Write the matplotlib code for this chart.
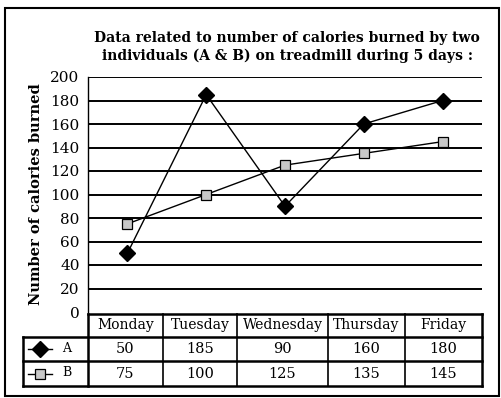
import matplotlib
matplotlib.use("Agg")
import matplotlib.pyplot as plt
from matplotlib.patches import Rectangle

days = ["Monday", "Tuesday", "Wednesday", "Thursday", "Friday"]
series_a = [50, 185, 90, 160, 180]
series_b = [75, 100, 125, 135, 145]
yticks = [0, 20, 40, 60, 80, 100, 120, 140, 160, 180, 200]
title = "Data related to number of calories burned by two\nindividuals (A & B) on treadmill during 5 days :"
ylabel = "Number of calories burned"

W, H = 502, 398
fig = plt.figure(figsize=(W / 100, H / 100), dpi=100)
plt.rcParams['font.family'] = ['DejaVu Serif']

def fx(px):
    return px / W

def fy(py):
    return 1 - py / H

# outer border
fig.patches.append(Rectangle((fx(5), fy(396)), fx(499) - fx(5), fy(8) - fy(396),
                             transform=fig.transFigure, fill=False, lw=1.5, ec='black'))

L, R, T, B = 88, 482, 77, 312
ax = fig.add_axes([fx(L), fy(B), fx(R) - fx(L), fy(T) - fy(B)])
x = list(range(len(days)))
ax.set_xlim(-0.5, len(days) - 0.5)
ax.set_ylim(0, 200)
ax.set_yticks(yticks)
ax.set_yticklabels([str(v) for v in yticks], fontsize=11)
ax.set_xticks([])
ax.tick_params(axis='y', length=0, pad=6)
for s in ['top', 'right', 'bottom']:
    ax.spines[s].set_visible(False)
ax.spines['left'].set_linewidth(1.0)
for v in yticks[1:]:
    ax.axhline(v, color='black', lw=1.4, zorder=1)
ax.plot(x, series_b, color='black', lw=1.0, marker='s', markersize=7.5,
        markerfacecolor='#c8c8c8', markeredgecolor='black', markeredgewidth=0.9, zorder=3)
ax.plot(x, series_a, color='black', lw=1.0, marker='D', markersize=8,
        markerfacecolor='black', markeredgecolor='black', zorder=4)
ax.set_ylabel(ylabel, fontsize=10.5, fontweight='bold', labelpad=5)

fig.text(fx(287), fy(47), title, ha='center', va='center', fontsize=10,
         fontweight='bold', linespacing=1.3)

# table
tax = fig.add_axes([0, 0, 1, 1])
tax.set_xlim(0, W)
tax.set_ylim(H, 0)
tax.axis('off')
col_edges = [88, 163, 237, 328, 405, 482]
rows_y = [314, 337, 361, 386]
lw = 1.8
tax.plot([L, R], [rows_y[0], rows_y[0]], color='black', lw=lw)
for yy in rows_y[1:]:
    tax.plot([23, R], [yy, yy], color='black', lw=lw)
for i, xe in enumerate(col_edges):
    tax.plot([xe, xe], [rows_y[0], rows_y[3]], color='black', lw=lw if i in (0, len(days)) else 1.2)
tax.plot([23, 23], [rows_y[1], rows_y[3]], color='black', lw=lw)
for i, d in enumerate(days):
    cx = (col_edges[i] + col_edges[i + 1]) / 2
    tax.text(cx, (rows_y[0] + rows_y[1]) / 2, d, ha='center', va='center', fontsize=10)
    tax.text(cx, (rows_y[1] + rows_y[2]) / 2, str(series_a[i]), ha='center', va='center', fontsize=10.5)
    tax.text(cx, (rows_y[2] + rows_y[3]) / 2, str(series_b[i]), ha='center', va='center', fontsize=10.5)
ya = (rows_y[1] + rows_y[2]) / 2
yb = (rows_y[2] + rows_y[3]) / 2
tax.plot([28, 52], [ya, ya], color='black', lw=1.0)
tax.plot([40], [ya], marker='D', markersize=8, color='black')
tax.text(67, ya - 1, "A", ha='center', va='center', fontsize=9)
tax.plot([28, 52], [yb, yb], color='black', lw=1.0)
tax.plot([40], [yb], marker='s', markersize=7.5, markerfacecolor='#c8c8c8',
         markeredgecolor='black', markeredgewidth=0.9)
tax.text(67, yb - 1, "B", ha='center', va='center', fontsize=9)

fig.savefig("out.png", dpi=100)
